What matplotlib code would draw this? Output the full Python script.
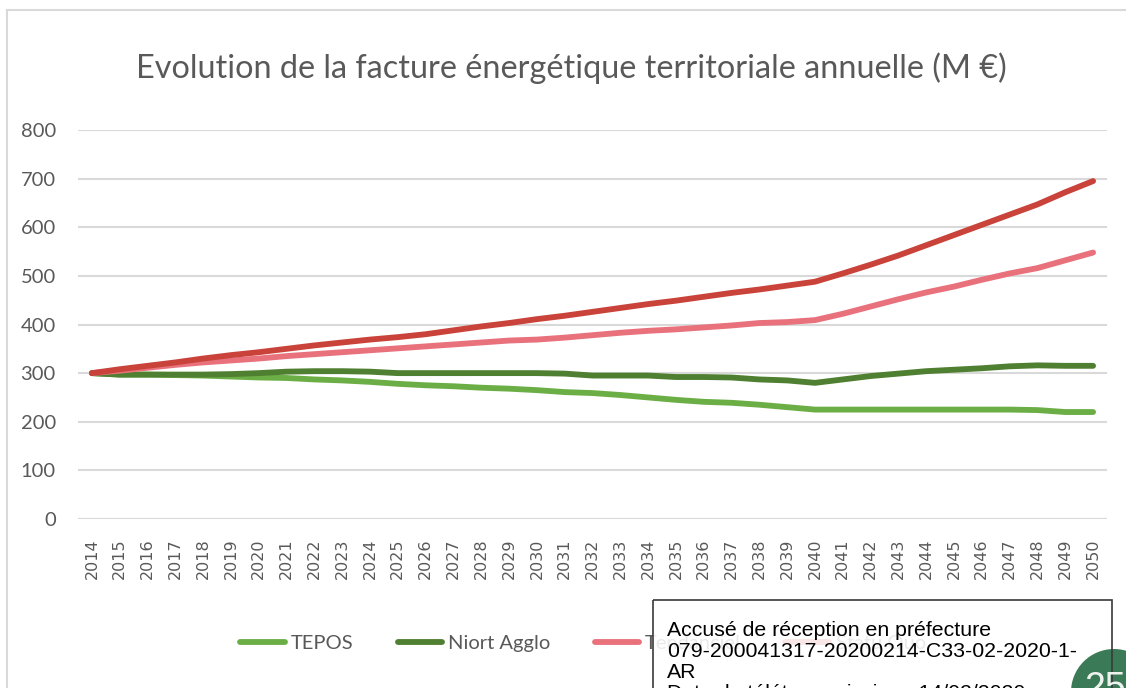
import matplotlib
matplotlib.use("Agg")
import matplotlib.pyplot as plt
from matplotlib.patches import Rectangle, Circle
from matplotlib.lines import Line2D

years = list(range(2014, 2051))

tepos = [300, 297, 297, 296, 295, 293, 291, 290, 287, 285, 282, 278, 275, 273, 270, 268, 265, 261, 259, 255, 250, 245, 241, 239, 235, 230, 225,
         225, 225, 225, 225, 225, 225, 225, 224, 220, 220]
niort = [300, 297, 297, 297, 297, 298, 300, 303, 304, 304, 303, 300, 300, 300, 300, 300, 300, 299, 295, 295, 295, 292, 292, 291, 287, 285, 280,
         287, 294, 299, 304, 307, 310, 314, 316, 315, 315]
tendanciel = [300, 305, 311, 317, 322, 326, 330, 335, 339, 343, 347, 351, 355, 359, 363, 367, 369, 373, 378, 383, 387, 390, 394, 398, 403, 405, 409,
              422, 437, 452, 466, 478, 492, 505, 516, 532, 548]
statu_quo = [300, 308, 315, 322, 330, 337, 343, 350, 357, 363, 369, 374, 380, 388, 396, 403, 411, 418, 426, 434, 442, 449, 457, 465, 472, 480, 488,
             505, 523, 542, 563, 584, 605, 626, 647, 672, 695]

series_names = ["TEPOS", "Niort Agglo", "Tendanciel", "Statu Quo"]
series_values = [tepos, niort, tendanciel, statu_quo]
colors = ["#6cae46", "#4f7f30", "#e8717c", "#c9433a"]

yticks = [0, 100, 200, 300, 400, 500, 600, 700, 800]

title = "Evolution de la facture énergétique territoriale annuelle (M €)"
stamp_lines = ["Accusé de réception en préfecture",
               "079-200041317-20200214-C33-02-2020-1-",
               "AR",
               "Date de télétransmission : 14/02/2020"]

W, H = 1126, 688
fig = plt.figure(figsize=(W / 100, H / 100), dpi=100)
fig.patch.set_facecolor("white")

def fx(px):
    return px / W

def fy(py):
    return 1 - py / H

# outer chart border
fig.add_artist(Line2D([fx(7), fx(7)], [fy(10), fy(700)], color="#d9d9d9", lw=1.5, transform=fig.transFigure))
fig.add_artist(Line2D([fx(7), fx(1130)], [fy(10), fy(10)], color="#d9d9d9", lw=1.5, transform=fig.transFigure))

ax = fig.add_axes([fx(78), fy(519), fx(1107) - fx(78), fy(130) - fy(519)])
for name, vals, c in zip(series_names, series_values, colors):
    ax.plot(years, vals, color=c, lw=4.2, label=name, solid_capstyle="round", solid_joinstyle="round", zorder=3)

ax.set_xlim(2013.5, 2050.5)
ax.set_ylim(0, 800)
ax.set_yticks(yticks)
ax.set_yticklabels([str(v) for v in yticks], fontfamily="Lato", fontsize=14.5, color="#595959")
ax.set_xticks(years)
ax.set_xticklabels([str(y) for y in years], rotation=90, fontfamily="DejaVu Sans", fontsize=11.5, color="#595959")
ax.tick_params(axis="y", length=0, pad=16)
ax.tick_params(axis="x", length=0, pad=14)
for s in ax.spines.values():
    s.set_visible(False)
ax.grid(axis="y", color="#d9d9d9", lw=1.5)
ax.set_axisbelow(True)
ax.axhline(0, color="#d9d9d9", lw=1.5, zorder=1)

fig.text(fx(571), fy(68), title, ha="center", va="center", fontfamily="Lato", fontweight="normal",
         fontsize=23.3, color="#595959")

leg = ax.legend(loc="center", bbox_to_anchor=(fx(583), fy(643)), bbox_transform=fig.transFigure,
                ncol=4, frameon=False, prop={"family": "Lato", "size": 14.5}, handlelength=2.2,
                columnspacing=2.2, handletextpad=0.3, labelcolor="#595959")

# stamp box
fig.add_artist(Rectangle((fx(653), fy(720)), fx(1112) - fx(653), fy(600) - fy(720), transform=fig.transFigure,
                         facecolor="white", edgecolor="none", alpha=0.88, zorder=10))
circ_ax = fig.add_axes([0, 0, 1, 1], zorder=11)
circ_ax.set_xlim(0, W)
circ_ax.set_ylim(H, 0)
circ_ax.axis("off")
circ_ax.add_patch(Circle((1114, 692), 43, facecolor="#3b7a57", edgecolor="none", zorder=1))
circ_ax.add_patch(Rectangle((653, 600), 1112 - 653, 200, facecolor="none", edgecolor="#3a3a3a", lw=1.2, zorder=2))
circ_ax.text(1084, 699, "25", color="#eef3ef", fontsize=27, fontfamily="Liberation Sans", ha="left", va="baseline", zorder=3)
for i, line in enumerate(stamp_lines):
    circ_ax.text(667, 636 + i * 21, line, color="black", fontsize=15.3, fontfamily="Liberation Sans",
                 ha="left", va="baseline", zorder=3)

fig.savefig("out.png", dpi=100)
